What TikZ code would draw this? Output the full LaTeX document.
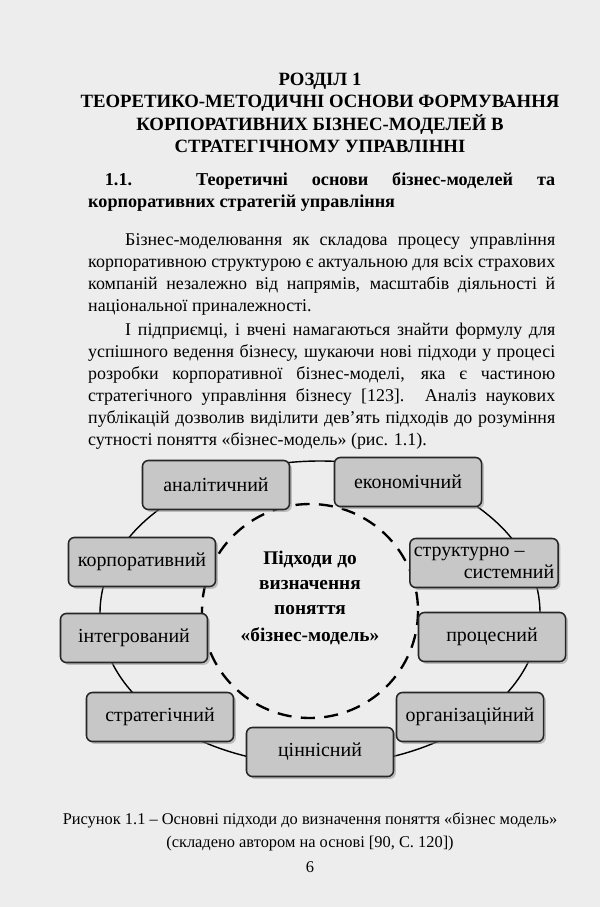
\documentclass[tikz,border=0pt]{standalone}
\usepackage{fontspec}
\setmainfont{Liberation Serif}
\usetikzlibrary{shadows}
\tikzset{
  approach/.style={draw=black!85,line width=1.3pt,rounded corners=5pt,fill=black!22,
    minimum width=4.41cm,minimum height=1.47cm,font=\fontsize{17}{19}\selectfont,
    drop shadow={shadow xshift=2pt,shadow yshift=-2pt,fill=black!45},align=center},
  bodytext/.style={anchor=north west,text width=14.01cm,inner sep=0pt,align=justify,
    font=\fontsize{15.3}{18.8}\selectfont},
}
\begin{document}
\begin{tikzpicture}[x=0.03cm,y=-0.03cm]
  \fill[black!7] (0,0) rectangle (600,907);
  \useasboundingbox (0,0) rectangle (600,907);
  % heading
  \node[font=\bfseries\fontsize{16}{19}\selectfont,align=center] (title) at (320,113)
     {РОЗДІЛ 1\\ТЕОРЕТИКО-МЕТОДИЧНІ ОСНОВИ ФОРМУВАННЯ\\КОРПОРАТИВНИХ БІЗНЕС-МОДЕЛЕЙ В\\СТРАТЕГІЧНОМУ УПРАВЛІННІ};
  \node[bodytext,font=\bfseries\fontsize{15.5}{18.8}\selectfont] (sect) at (88,172)
     {\hspace*{0.5cm}1.1. Теоретичні основи бізнес-моделей та\linebreak корпоративних стратегій управління};
  \node[bodytext] (para1) at (88,233)
     {\hspace*{1.11cm}Бізнес-моделювання як складова процесу управління\linebreak
     корпоративною структурою є актуальною для всіх страхових\linebreak
     компаній незалежно від напрямів, масштабів діяльності й\linebreak
     національної приналежності.};
  \node[bodytext] (para2) at (88,323)
     {\hspace*{1.11cm}І підприємці, і вчені намагаються знайти формулу для\linebreak
     успішного ведення бізнесу, шукаючи нові підходи у процесі\linebreak
     розробки корпоративної бізнес-моделі, яка є частиною\linebreak
     стратегічного управління бізнесу [123]. Аналіз наукових\linebreak
     публікацій дозволив виділити дев’ять підходів до розуміння\linebreak
     сутності поняття «бізнес-модель» (рис. 1.1).};
  % diagram
  \draw[line width=1.2pt] (320,613) ellipse[x radius=220,y radius=152];
  \draw[line width=2pt,dash pattern=on 12pt off 8pt] (310,611) ellipse[x radius=108,y radius=107];
  \node[font=\bfseries\fontsize{16.5}{21}\selectfont,align=center] (center) at (310,598)
     {Підходи до\\визначення\\поняття\\[2pt]«бізнес-модель»};
  \node[approach] (analit) at (216,485) {аналітичний};
  \node[approach] (econ) at (408,482) {економічний};
  \node[approach] (corp) at (142,562) {корпоративний};
  \node[approach,align=left] (struct) at (484,563) {структурно --\\\hspace*{1.5cm}системний};
  \node[approach] (integr) at (134,638) {інтегрований};
  \node[approach] (proc) at (492,637) {процесний};
  \node[approach] (strat) at (160,717) {стратегічний};
  \node[approach] (org) at (470,717) {організаційний};
  \node[approach] (value) at (320,752) {ціннісний};
  % caption
  \node[font=\fontsize{14}{20}\selectfont,align=center] (caption) at (310,832)
     {Рисунок 1.1 -- Основні підходи до визначення поняття «бізнес модель»\\(складено автором на основі [90, С. 120])};
  \node[font=\fontsize{14}{16}\selectfont] (page) at (310,867) {6};
\end{tikzpicture}
\end{document}
